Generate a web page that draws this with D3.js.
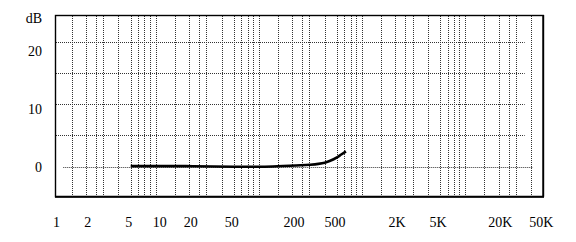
<!DOCTYPE html>
<html>
<head>
<meta charset="utf-8">
<script src="https://cdn.jsdelivr.net/npm/d3@7"></script>
<style>
  html, body { margin: 0; padding: 0; background: #fff; }
  svg { display: block; }
  text { font-family: "Liberation Serif", "Times New Roman", serif; fill: #000; }
</style>
</head>
<body>
<svg id="chart" width="576" height="242"></svg>
<script>
// ---- data ----
const freqLabels = [1, 2, 5, 10, 20, 50, 200, 500, 2000, 5000, 20000, 50000];
const freqLabelText = ["1", "2", "5", "10", "20", "50", "200", "500", "2K", "5K", "20K", "50K"];
const dbTickValues = [0, 10, 20];
const dbGridValues = [0, 5, 10, 15, 20];
const gridPattern = [5, 5.9, 6.8, 7.7, 8.8, 13.4, 18.4, 23, 27, 38]; // gridline frequencies within one decade
const gridDecades = [0.1, 1, 10, 100, 1000];
const freq = [5, 10, 20, 50, 80, 100, 150, 200, 270, 330, 380, 430, 500, 550, 610];
const gain = [0.1, 0.1, 0.08, 0.0, -0.02, 0.0, 0.1, 0.2, 0.3, 0.45, 0.65, 0.95, 1.5, 1.95, 2.45];

// ---- layout ----
const frame = { left: 55, top: 15, right: 543.3, bottom: 196.7 };
const svg = d3.select("#chart");

const x = d3.scaleLog().domain([5, 50000]).range([130.7, 543.3]);
const y = d3.scaleLinear().domain([0, 20]).range([166.7, 41.7]);
const yLabel = d3.scaleLinear().domain([0, 20]).range([171.7, 56]);

const px = v => Math.round(v) + 0.5;

// vertical grid
const gridFreqs = [];
gridDecades.forEach(d => gridPattern.forEach(p => {
  const f = p * d;
  if (f >= 1.3 && f < 50000) gridFreqs.push(f);
}));

svg.append("g").selectAll("line").data(gridFreqs).join("line")
  .attr("x1", d => px(x(d))).attr("x2", d => px(x(d)))
  .attr("y1", frame.top + 1).attr("y2", frame.bottom)
  .attr("stroke", "#333").attr("stroke-width", 1)
  .attr("stroke-dasharray", "1,1");

// horizontal grid
svg.append("g").selectAll("line").data(dbGridValues).join("line")
  .attr("x1", d => d === 0 ? x(1.11) : frame.left + 1)
  .attr("x2", d => d === 0 ? x(40000) : x(33000))
  .attr("y1", d => px(y(d))).attr("y2", d => px(y(d)))
  .attr("stroke", "#333").attr("stroke-width", 1)
  .attr("stroke-dasharray", "1,1");

// frame
svg.append("rect")
  .attr("x", frame.left + 0.5).attr("y", frame.top + 0.5)
  .attr("width", frame.right - frame.left - 0.5)
  .attr("height", frame.bottom - frame.top - 0.5)
  .attr("fill", "none").attr("stroke", "#000").attr("stroke-width", 1.4);
svg.append("line")
  .attr("x1", frame.left).attr("x2", frame.right + 0.7)
  .attr("y1", frame.bottom).attr("y2", frame.bottom)
  .attr("stroke", "#000").attr("stroke-width", 2);
svg.append("line")
  .attr("x1", frame.right).attr("x2", frame.right)
  .attr("y1", frame.top).attr("y2", frame.bottom)
  .attr("stroke", "#000").attr("stroke-width", 1.8);

// curve
const line = d3.line()
  .x((d, i) => x(freq[i]))
  .y(d => y(d))
  .curve(d3.curveMonotoneX);
svg.append("path")
  .datum(gain)
  .attr("d", line)
  .attr("fill", "none").attr("stroke", "#000")
  .attr("stroke-width", 2.6).attr("stroke-linecap", "butt");

// x labels
svg.append("g").selectAll("text").data(freqLabels).join("text")
  .attr("x", d => x(d) - 2)
  .attr("y", 227.3)
  .attr("text-anchor", "middle")
  .attr("font-size", 14)
  .text((d, i) => freqLabelText[i]);

// y labels
svg.append("g").selectAll("text").data(dbTickValues).join("text")
  .attr("x", 42)
  .attr("y", d => yLabel(d))
  .attr("text-anchor", "end")
  .attr("font-size", 14)
  .text(d => d);

svg.append("text")
  .attr("x", 42).attr("y", 23)
  .attr("text-anchor", "end")
  .attr("font-size", 14)
  .text("dB");
</script>
</body>
</html>
